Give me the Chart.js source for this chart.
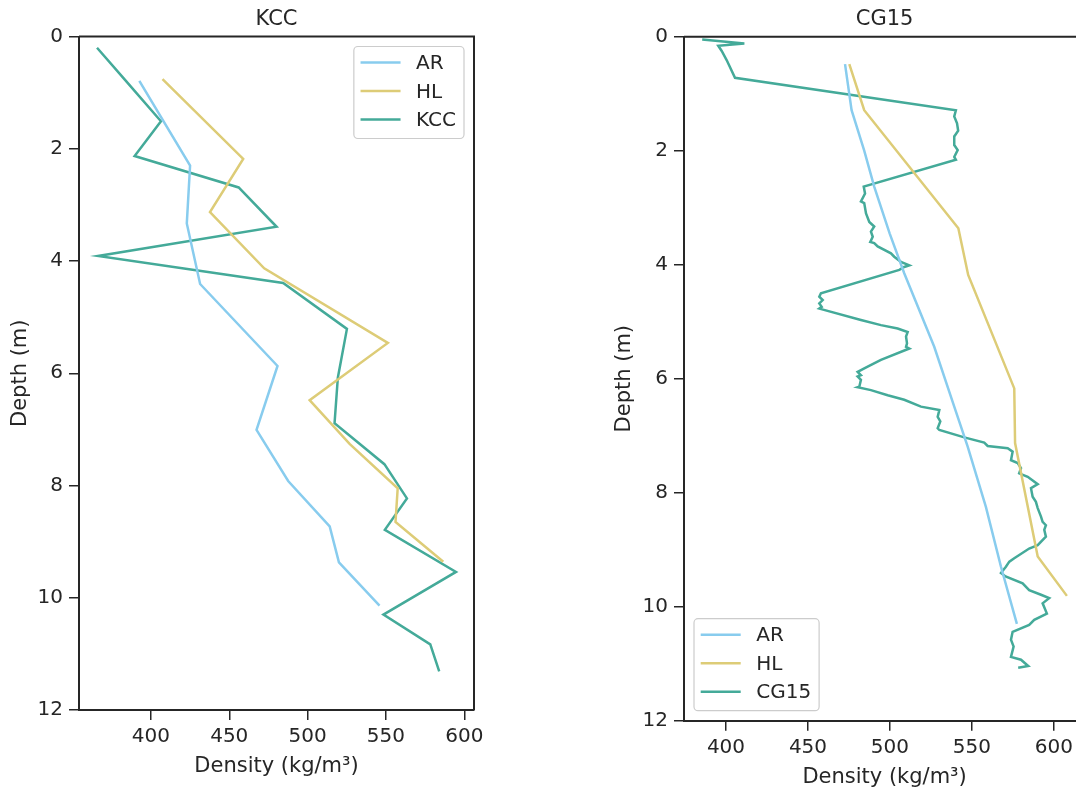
<!DOCTYPE html>
<html>
<head>
<meta charset="utf-8">
<title>Density profiles</title>
<script src="https://cdn.jsdelivr.net/npm/chart.js@4.4.1/dist/chart.umd.min.js"></script>
<style>
  html, body { margin: 0; padding: 0; background: #fff; overflow: hidden; width: 1076px; height: 790px; }
  .panel { position: absolute; top: 0; }
  #left-panel { left: 0; }
  #right-panel { left: 600px; }
</style>
</head>
<body>
<div class="panel" id="left-panel"><canvas id="kccChart" width="500" height="790"></canvas></div>
<div class="panel" id="right-panel"><canvas id="cg15Chart" width="500" height="790"></canvas></div>
<script>
// tick labels
const densityTicks = [400, 450, 500, 550, 600];
const depthTicks = [0, 2, 4, 6, 8, 10, 12];

const seriesNames = ["AR", "HL"];
const colors = { AR: "#88CCEE", HL: "#DDCC77", obs: "#44AA99" };

// KCC site (left)
const kccArDepth = [0.79, 2.30, 3.33, 4.41, 5.87, 7.01, 7.92, 8.73, 9.37, 10.14];
const kccArDensity = [392.6, 425.0, 422.9, 431.4, 480.8, 467.4, 487.6, 514.1, 520.0, 545.9];

const kccHlDepth = [0.76, 2.18, 3.13, 4.13, 5.46, 6.48, 7.26, 8.05, 8.65, 9.36];
const kccHlDensity = [407.4, 458.9, 437.7, 472.3, 551.2, 501.3, 526.8, 557.5, 556.1, 586.6];

const kccDepth = [0.20, 0.80, 1.51, 2.13, 2.69, 3.39, 3.91, 4.39, 5.21, 6.08, 6.89, 7.62, 8.23, 8.79, 9.54, 10.30, 10.83, 11.31];
const kccDensity = [365.6, 384.3, 406.4, 389.6, 456.0, 480.2, 366.3, 484.4, 525.1, 519.3, 517.2, 549.0, 563.4, 549.3, 594.7, 548.4, 578.3, 584.0];

// CG15 site (right)
const cgArDepth = [0.48, 1.29, 2.00, 2.63, 3.45, 4.15, 5.44, 6.49, 7.19, 8.25, 9.30, 10.30];
const cgArDensity = [472.6, 476.6, 484.3, 490.4, 499.8, 508.7, 527.0, 539.2, 547.4, 558.5, 567.7, 577.4];

const cgHlDepth = [0.48, 1.29, 3.36, 4.18, 6.17, 7.13, 9.12, 9.81];
const cgHlDensity = [475.2, 484.3, 541.7, 547.7, 575.8, 576.3, 590.1, 607.9];

const cg15Depth = [
  0.05, 0.12, 0.16, 0.25, 0.41, 0.72, 1.29, 1.40, 1.52, 1.65, 1.75, 1.90, 1.99, 2.11, 2.16,
  2.63, 2.75, 2.89, 2.92, 3.10, 3.25, 3.33, 3.42, 3.51, 3.60, 3.62, 3.68, 3.80, 3.86, 3.95,
  4.01, 4.04, 4.09, 4.50, 4.56, 4.62, 4.68, 4.74, 4.77, 4.97, 5.06, 5.12, 5.18, 5.26, 5.38,
  5.44, 5.47, 5.67, 5.79, 5.88, 5.94, 5.96, 6.02, 6.14, 6.15, 6.20, 6.29, 6.37, 6.49, 6.55,
  6.67, 6.75, 6.87, 6.90, 7.03, 7.12, 7.18, 7.22, 7.28, 7.43, 7.48, 7.57, 7.66, 7.72, 7.85,
  7.92, 8.07, 8.16, 8.27, 8.42, 8.51, 8.57, 8.65, 8.77, 8.92, 8.98, 9.15, 9.21, 9.30, 9.41,
  9.47, 9.59, 9.71, 9.79, 9.85, 9.94, 10.12, 10.23, 10.32, 10.44, 10.58, 10.70, 10.88, 10.93, 11.04,
  11.07
];
const cg15Density = [
  385.5, 411.2, 395.3, 397.4, 400.4, 405.5, 540.2, 539.2, 540.9, 541.6, 539.2, 539.2, 541.3, 539.2, 540.2,
  484.0, 484.8, 482.3, 484.3, 485.4, 487.4, 490.4, 488.4, 489.5, 488.0, 490.4, 492.5, 500.6, 502.6, 506.7,
  511.8, 508.7, 505.7, 457.9, 456.9, 459.0, 456.9, 458.4, 456.9, 482.3, 494.5, 504.7, 510.8, 509.8, 510.4,
  509.8, 511.8, 494.5, 486.4, 480.3, 482.3, 480.3, 482.3, 481.3, 480.3, 488.4, 498.6, 508.7, 518.9, 530.1,
  529.1, 530.7, 529.1, 530.1, 545.3, 557.5, 559.6, 571.8, 574.8, 573.8, 577.9, 579.9, 578.8, 584.0, 590.1,
  586.0, 587.0, 589.0, 590.1, 592.1, 593.1, 595.1, 594.1, 595.1, 590.1, 584.9, 575.8, 572.8, 570.7, 567.7,
  570.5, 580.9, 584.9, 592.1, 597.1, 593.1, 595.7, 588.0, 584.9, 574.8, 573.8, 575.4, 573.8, 579.9, 584.3,
  578.2
];

const ink = "#262626";
Chart.defaults.font.family = "'DejaVu Sans', sans-serif";
Chart.defaults.color = ink;

function toPoints(depths, densities) {
  return depths.map((d, i) => ({ x: densities[i], y: d }));
}

// top and right spines
const framePlugin = {
  id: "frame",
  afterDatasetsDraw(chart) {
    const { ctx, chartArea: a } = chart;
    ctx.save();
    ctx.strokeStyle = ink;
    ctx.lineWidth = 2;
    ctx.beginPath();
    ctx.moveTo(a.left, a.top);
    ctx.lineTo(a.right, a.top);
    ctx.lineTo(a.right, a.bottom);
    ctx.stroke();
    ctx.restore();
  },
};

// legend box inside the plot area
const insideLegendPlugin = {
  id: "insideLegend",
  afterDatasetsDraw(chart, args, opts) {
    const { ctx, chartArea } = chart;
    const sets = chart.data.datasets;
    ctx.save();
    ctx.font = "20px 'DejaVu Sans'";
    const textW = Math.max(...sets.map((s) => ctx.measureText(s.label).width));
    const w = 6.7 + 40 + 15.5 + textW + 8;
    const h = 16 + (sets.length - 1) * 28.5 + 19;
    const x = opts.corner === "tr" ? chartArea.right - 10 - w : chartArea.left + 10;
    const y = opts.corner === "tr" ? chartArea.top + 10 : chartArea.bottom - 10 - h;
    ctx.fillStyle = "rgba(255,255,255,0.8)";
    ctx.strokeStyle = "#cccccc";
    ctx.lineWidth = 1.2;
    ctx.beginPath();
    ctx.roundRect(x, y, w, h, 4);
    ctx.fill();
    ctx.stroke();
    sets.forEach((s, i) => {
      const ry = y + 16 + i * 28.5;
      ctx.strokeStyle = s.borderColor;
      ctx.lineWidth = 2.5;
      ctx.beginPath();
      ctx.moveTo(x + 6.7, ry);
      ctx.lineTo(x + 46.7, ry);
      ctx.stroke();
      ctx.fillStyle = ink;
      ctx.textBaseline = "middle";
      ctx.fillText(s.label, x + 62.2, ry + 1.3);
    });
    ctx.restore();
  },
};

function axisStyle(padding) {
  return {
    ticks: { font: { size: 20 }, color: ink, padding: padding, callback: (v) => String(v) },
    grid: { display: true, drawOnChartArea: false, drawTicks: true, tickLength: 10, color: ink, lineWidth: 1.5 },
    border: { display: true, color: ink, width: 2 },
  };
}

function drawProfile(canvasId, o) {
  const ctx = document.getElementById(canvasId).getContext("2d");
  return new Chart(ctx, {
    type: "scatter",
    data: {
      datasets: o.series.map((s) => ({
        label: s.label,
        data: toPoints(s.depth, s.density),
        borderColor: s.color,
        backgroundColor: s.color,
        showLine: true,
        pointRadius: 0,
        borderWidth: 2.5,
        tension: 0,
      })),
    },
    options: {
      responsive: false,
      animation: false,
      layout: { padding: { left: 0, top: 0, right: o.padRight, bottom: 0 } },
      plugins: {
        legend: { display: false },
        tooltip: { enabled: false },
        title: {
          display: true,
          text: o.title,
          fullSize: false,
          color: ink,
          font: { size: 21, weight: "normal" },
          padding: { top: 7, bottom: o.titleGap },
        },
        insideLegend: { corner: o.legendCorner },
      },
      scales: {
        x: {
          type: "linear",
          position: "bottom",
          min: o.xMin,
          max: o.xMax,
          afterFit: (s) => { s.height = o.xAxisHeight; },
          afterBuildTicks: (s) => { s.ticks = densityTicks.map((v) => ({ value: v })); },
          ...axisStyle(5),
          title: {
            display: true,
            text: "Density (kg/m³)",
            color: ink,
            font: { size: 21 },
            padding: { top: 0, bottom: o.xTitlePad },
          },
        },
        y: {
          type: "linear",
          position: "left",
          reverse: true,
          min: 0,
          max: 12,
          afterFit: (s) => { s.width = o.yAxisWidth; },
          afterBuildTicks: (s) => { s.ticks = depthTicks.map((v) => ({ value: v })); },
          ...axisStyle(6),
          title: {
            display: true,
            text: "Depth (m)",
            color: ink,
            font: { size: 21 },
            padding: { top: o.yTitlePad, bottom: 0 },
          },
        },
      },
    },
    plugins: [framePlugin, insideLegendPlugin],
  });
}

drawProfile("kccChart", {
  title: "KCC",
  series: [
    { label: seriesNames[0], depth: kccArDepth, density: kccArDensity, color: colors.AR },
    { label: seriesNames[1], depth: kccHlDepth, density: kccHlDensity, color: colors.HL },
    { label: "KCC", depth: kccDepth, density: kccDensity, color: colors.obs },
  ],
  xMin: 354.1,
  xMax: 606.2,
  padRight: 26,
  titleGap: 4.3,
  xAxisHeight: 80,
  xTitlePad: 10.4,
  yAxisWidth: 79,
  yTitlePad: 7.8,
  legendCorner: "tr",
});

drawProfile("cg15Chart", {
  title: "CG15",
  series: [
    { label: seriesNames[0], depth: cgArDepth, density: cgArDensity, color: colors.AR },
    { label: seriesNames[1], depth: cgHlDepth, density: cgHlDensity, color: colors.HL },
    { label: "CG15", depth: cg15Depth, density: cg15Density, color: colors.obs },
  ],
  xMin: 374.4,
  xMax: 619,
  padRight: 14.9,
  titleGap: 4.5,
  xAxisHeight: 69.3,
  xTitlePad: 0,
  yAxisWidth: 84,
  yTitlePad: 12.3,
  legendCorner: "bl",
});
</script>
</body>
</html>
